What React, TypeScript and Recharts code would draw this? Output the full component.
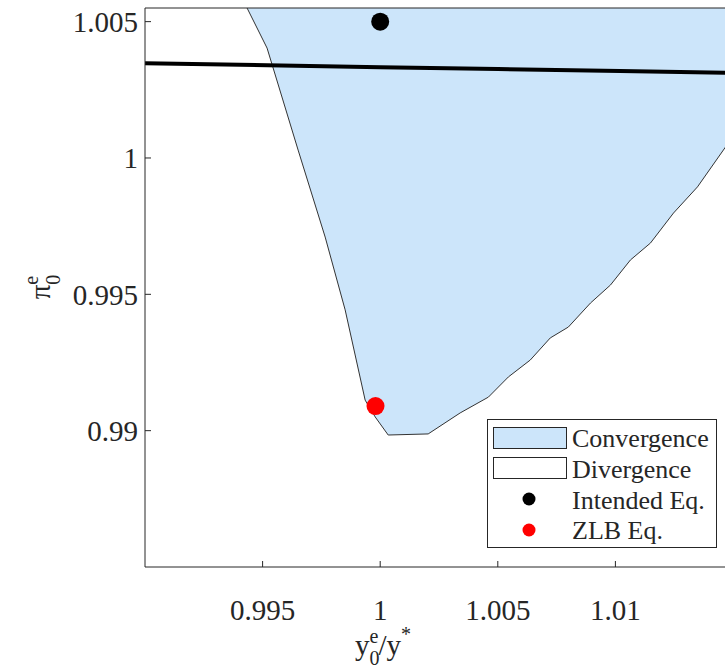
import React from "react";
import {
  ComposedChart,
  Area,
  Line,
  Scatter,
  XAxis,
  YAxis,
  Legend,
  Label,
} from "recharts";

// convergence region: lower edge (fills up to the top of the axes)
const boundaryX = [
  0.99434, 0.99519, 0.99651, 0.99766, 0.99851, 0.99936, 0.99979, 1.00034,
  1.00204, 1.0034, 1.0046, 1.00545, 1.00638, 1.00723, 1.008, 1.00894, 1.00979,
  1.01064, 1.01149, 1.01247, 1.01349, 1.01468, 1.015,
];
const boundaryY = [
  1.0055, 1.00403, 1.00029, 0.9971, 0.99443, 0.99112, 0.9905, 0.98984,
  0.98988, 0.99065, 0.99123, 0.99197, 0.99259, 0.9934, 0.9938, 0.99468,
  0.99534, 0.99626, 0.99688, 0.99798, 0.99894, 1.0004, 1.0008,
];

// black (intended) policy line
const policyX = [0.99, 0.9952, 1.0, 1.005, 1.0102, 1.015];
const policyY = [1.00347, 1.0034, 1.00333, 1.00326, 1.00319, 1.00312];

// equilibria
const intendedEq = [{ x: 1.0, y: 1.005 }];
const zlbEq = [{ x: 0.9998, y: 0.9909 }];

const xTicks = [0.995, 1, 1.005, 1.01];
const yTicks = [0.99, 0.995, 1, 1.005];

const FONT = '"Liberation Serif", "Times New Roman", serif';
const INK = "#262626";
const FILL = "#CCE5FA";

const areaData = boundaryX.map((x, i) => ({ x, lower: boundaryY[i] }));
const lineData = policyX.map((x, i) => ({ x, y: policyY[i] }));

const dot = (color: string) => (props: any) =>
  <circle cx={props.cx} cy={props.cy} r={9} fill={color} />;

// serif tick labels (bottom axis hangs below, left axis centred)
const XTick = (props: any) => (
  <text x={props.x} y={props.y} dy="0.71em" textAnchor="middle" fontFamily={FONT} fontSize={29} fill={INK}>
    {props.payload.value}
  </text>
);
const YTick = (props: any) => (
  <text x={props.x} y={props.y} dy="0.355em" textAnchor="end" fontFamily={FONT} fontSize={29} fill={INK}>
    {props.payload.value}
  </text>
);

const XTitle = () => (
  <text x={383} y={655} textAnchor="middle" fontFamily={FONT} fontSize={29} fill={INK}>
    y
    <tspan fontSize={20} dy={10}>0</tspan>
    <tspan fontSize={20} dx={-10} dy={-22}>e</tspan>
    <tspan fontSize={29} dy={12}>/y</tspan>
    <tspan fontSize={20} dy={-14}>*</tspan>
  </text>
);

const YTitle = () => (
  <text
    x={50}
    y={287}
    transform="rotate(-90, 50, 287)"
    textAnchor="middle"
    fontFamily={FONT}
    fontSize={29}
    fill={INK}
  >
    π
    <tspan fontSize={20} dy={10}>0</tspan>
    <tspan fontSize={20} dx={-10} dy={-22}>e</tspan>
  </text>
);

const LegendBox = () => (
  <svg width={230} height={129} style={{ display: "block" }}>
    <rect x={0.5} y={0.5} width={229} height={128} fill="#fff" stroke={INK} />
    <rect x={6.5} y={8.5} width={73} height={21} fill={FILL} stroke={INK} />
    <rect x={6.5} y={38.5} width={73} height={21} fill="#fff" stroke={INK} />
    <circle cx={42} cy={80} r={6.5} fill="#000" />
    <circle cx={42} cy={111} r={6.5} fill="#ff0000" />
    <g fontFamily={FONT} fontSize={26} fill={INK} dominantBaseline="central">
      <text x={85} y={19}>Convergence</text>
      <text x={85} y={50}>Divergence</text>
      <text x={85} y={81}>Intended Eq.</text>
      <text x={85} y={111}>ZLB Eq.</text>
    </g>
  </svg>
);

export default function App() {
  return (
    <div
      style={{
        position: "absolute",
        left: 0,
        top: 0,
        width: 725,
        height: 672,
        overflow: "hidden",
        background: "#fff",
        fontFamily: FONT,
      }}
    >
      <ComposedChart
        width={733}
        height={672}
        margin={{ top: 7, right: 0, bottom: 0, left: 0 }}
      >
        <XAxis
          dataKey="x"
          type="number"
          domain={[0.99, 1.015]}
          allowDataOverflow
          ticks={xTicks}
          height={105}
          tickSize={-6}
          tickMargin={38}
          stroke={INK}
          tick={XTick}
        >
          <Label content={XTitle} />
        </XAxis>
        <XAxis
          xAxisId="top"
          dataKey="x"
          type="number"
          orientation="top"
          domain={[0.99, 1.015]}
          allowDataOverflow
          ticks={xTicks}
          height={1}
          tickSize={-6}
          tick={false}
          stroke={INK}
        />
        <YAxis
          type="number"
          domain={[0.985, 1.0055]}
          allowDataOverflow
          ticks={yTicks}
          width={145}
          tickSize={-6}
          tickMargin={13}
          stroke={INK}
          tick={YTick}
        >
          <Label content={YTitle} />
        </YAxis>
        <Legend
          layout="vertical"
          align="center"
          verticalAlign="middle"
          content={LegendBox}
          wrapperStyle={{ left: 487, top: 419, width: 230, height: 129 }}
        />
        <Area
          data={areaData}
          dataKey="lower"
          type="linear"
          baseValue={1.0055}
          fill={FILL}
          fillOpacity={1}
          stroke="#333"
          strokeWidth={1}
          isAnimationActive={false}
        />
        <Line
          data={lineData}
          dataKey="y"
          type="linear"
          stroke="#000"
          strokeWidth={4}
          dot={false}
          activeDot={false}
          isAnimationActive={false}
        />
        <Scatter data={intendedEq} dataKey="y" shape={dot("#000")} isAnimationActive={false} />
        <Scatter data={zlbEq} dataKey="y" shape={dot("#ff0000")} isAnimationActive={false} />
      </ComposedChart>
    </div>
  );
}
